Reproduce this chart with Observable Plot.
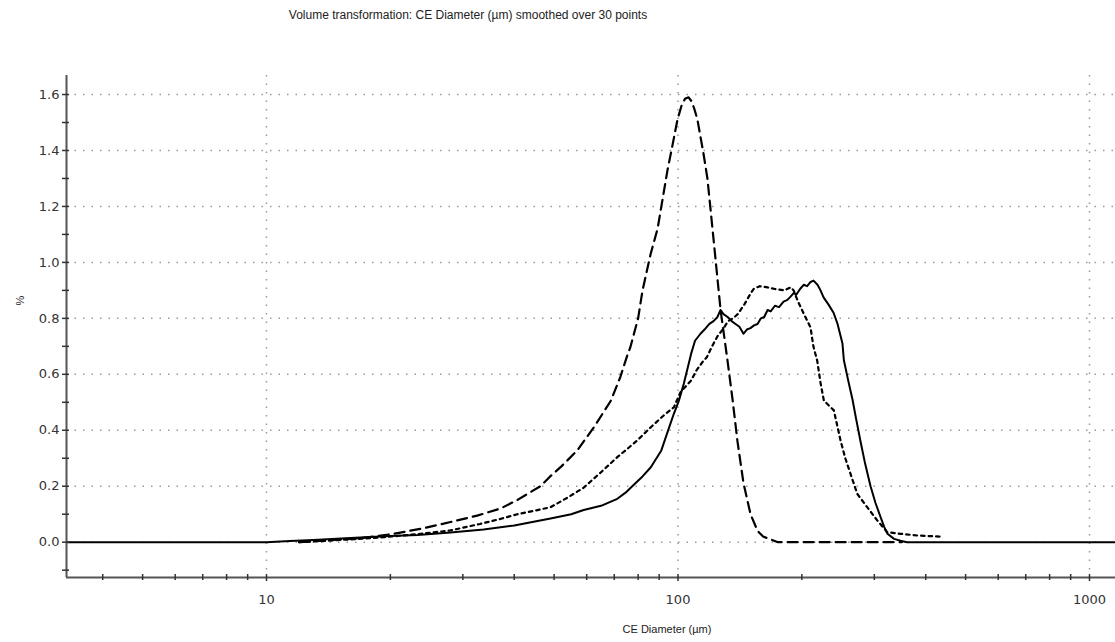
<!DOCTYPE html>
<html><head><meta charset="utf-8">
<script src="https://cdn.jsdelivr.net/npm/d3@7"></script>
<script src="https://cdn.jsdelivr.net/npm/@observablehq/plot@0.6"></script>
<style>
body{margin:0;background:#fff;font-family:"Liberation Sans",Arial,sans-serif;}
#title{height:30px;width:936px;text-align:center;font-size:12px;line-height:30px;color:#222;}
#chart svg{display:block;}
</style></head><body>
<div id="title">Volume transformation: CE Diameter (µm) smoothed over 30 points</div>
<div id="chart"></div>
<script>
// Axis settings
const xDomain = [3.266, 1156.6];
const yDomain = [-0.1262, 1.668];
const xMajor = [10, 100, 1000];
const xMinor = [4,5,6,7,8,9,20,30,40,50,60,70,80,90,200,300,400,500,600,700,800,900];
const yMajor = [0,0.2,0.4,0.6,0.8,1.0,1.2,1.4,1.6];
const yMinor = [-0.1,0.1,0.3,0.5,0.7,0.9,1.1,1.3,1.5];
const xLabel = "CE Diameter (µm)";
const yLabel = "%";

// Series: [CE diameter (µm), volume %]
const seriesSolid = [[3.27,0],[10,0],[11.4,0.004],[13,0.008],[16,0.015],[20,0.022],[23.3,0.026],[28,0.035],[33.7,0.045],[40,0.06],[49,0.085],[55,0.1],[59,0.115],[65,0.13],[71.2,0.155],[75,0.18],[78.1,0.205],[82,0.235],[85.9,0.268],[91.1,0.328],[94,0.387],[97.7,0.459],[100.5,0.506],[103.3,0.566],[107.6,0.673],[110,0.72],[113.4,0.745],[116,0.76],[119.2,0.78],[122,0.79],[124.6,0.804],[126.9,0.83],[129,0.815],[132,0.805],[135,0.79],[138,0.78],[141,0.77],[144.3,0.745],[147,0.76],[150,0.765],[153,0.775],[156.1,0.78],[159,0.8],[162,0.805],[165.1,0.83],[168,0.825],[172,0.845],[176,0.84],[180.5,0.86],[184,0.865],[187,0.875],[191,0.89],[194,0.885],[198,0.905],[202,0.92],[206,0.915],[210,0.93],[213.5,0.935],[218.3,0.92],[222,0.9],[225.8,0.875],[232,0.85],[238.8,0.82],[244.2,0.78],[251,0.71],[253,0.65],[259,0.58],[265.5,0.51],[271,0.44],[277.7,0.36],[285,0.28],[293.7,0.2],[302,0.14],[310.6,0.09],[317,0.055],[322.9,0.03],[335,0.012],[347.3,0.005],[360,0],[1157,0]];

const seriesDotted = [[12,0],[14,0.005],[16,0.01],[19.3,0.018],[23,0.028],[28,0.042],[33,0.065],[37,0.083],[40.7,0.1],[45,0.113],[49,0.125],[54,0.16],[59,0.195],[65,0.25],[71.2,0.304],[75.5,0.335],[79.5,0.363],[85.9,0.411],[92.3,0.453],[97.7,0.482],[101.4,0.536],[107.6,0.578],[111,0.615],[115.4,0.649],[117.5,0.661],[121,0.7],[124.6,0.735],[129.2,0.765],[132.3,0.79],[136,0.8],[139.9,0.816],[145,0.85],[150,0.888],[152.9,0.906],[158,0.915],[164.9,0.911],[172,0.905],[181.1,0.9],[188,0.911],[191,0.9],[195.2,0.864],[202.2,0.816],[209.9,0.768],[213.3,0.7],[217.9,0.649],[222,0.57],[226.2,0.506],[232,0.49],[239.2,0.471],[248.3,0.364],[255,0.3],[262.6,0.244],[272.6,0.173],[288.3,0.125],[304.9,0.078],[322.4,0.036],[347.3,0.03],[380.8,0.024],[434.6,0.02]];

const seriesDashed = [[12,0],[14,0.006],[17,0.015],[20.4,0.03],[24.1,0.05],[28,0.072],[32.5,0.095],[37,0.12],[40.6,0.15],[46.3,0.2],[48.9,0.235],[52,0.27],[56.9,0.328],[62.5,0.411],[68.7,0.506],[72.4,0.59],[75.4,0.67],[76.6,0.697],[80,0.8],[82,0.9],[85.8,1.03],[89.2,1.12],[94.3,1.33],[97,1.42],[99.7,1.51],[102,1.56],[104,1.585],[106.1,1.59],[108,1.575],[109.5,1.55],[111.5,1.51],[115.3,1.39],[117.9,1.3],[121.3,1.12],[123.4,1.01],[126.9,0.83],[131.9,0.65],[135.7,0.51],[139.5,0.36],[144.3,0.21],[150.1,0.1],[156.1,0.04],[161,0.02],[167.8,0.01],[175,0],[350,0]];

const gridStyle = {stroke: "#9a9a9a", strokeWidth: 1.5, strokeDasharray: "1.5,7"};
const axisStyle = {stroke: "#555", strokeWidth: 2};
const tickFont = "'DejaVu Sans', Verdana, sans-serif";

const chart = Plot.plot({
  width: 1115,
  height: 612,
  marginLeft: 66,
  marginRight: 0,
  marginTop: 45,
  marginBottom: 65,
  style: {fontFamily: "'Liberation Sans', Arial, sans-serif", fontSize: "11px", color: "#333", background: "#fff"},
  x: {type: "log", domain: xDomain},
  y: {domain: yDomain},
  marks: [
    Plot.ruleY(yMajor, {y: d => d, ...gridStyle}),
    Plot.ruleX(xMajor, {x: d => d, ...gridStyle}),
    Plot.line(seriesDashed, {x: d => d[0], y: d => d[1], stroke: "#000", strokeWidth: 2.2, strokeDasharray: "10,6", curve: "linear"}),
    Plot.line(seriesDotted, {x: d => d[0], y: d => d[1], stroke: "#000", strokeWidth: 2.2, strokeDasharray: "3.5,4", curve: "linear"}),
    Plot.line(seriesSolid, {x: d => d[0], y: d => d[1], stroke: "#000", strokeWidth: 2, curve: "linear"}),
    Plot.ruleX([xDomain[0]], {x: d => d, ...axisStyle}),
    Plot.ruleY([yDomain[0]], {y: d => d, ...axisStyle}),
    Plot.axisY({ticks: yMajor, tickSize: 4, tickPadding: 3, tickFormat: d => d.toFixed(1), label: null, stroke: "#333", strokeWidth: 1.5, fontSize: 13, fontFamily: tickFont, fill: "#333"}),
    Plot.axisY({ticks: yMajor.concat(yMinor), tickSize: -3, tickFormat: () => "", label: null, stroke: "#333", strokeWidth: 1.5}),
    Plot.axisY({ticks: yMinor, tickSize: 4, tickFormat: () => "", label: null, stroke: "#333", strokeWidth: 1.5}),
    Plot.axisX({ticks: xMajor, tickSize: 4, tickPadding: 13, tickFormat: d => String(d), label: null, stroke: "#333", strokeWidth: 1.5, fontSize: 13, fontFamily: tickFont, fill: "#333"}),
    Plot.axisX({ticks: xMajor.concat(xMinor), tickSize: -3, tickFormat: () => "", label: null, stroke: "#333", strokeWidth: 1.5}),
    Plot.axisX({ticks: xMinor, tickSize: 3, tickFormat: () => "", label: null, stroke: "#333", strokeWidth: 1.5}),
    Plot.text([xLabel], {text: d => d, frameAnchor: "bottom", dx: 76, dy: 55, fill: "#222", fontSize: 11}),
    Plot.text([yLabel], {text: d => d, frameAnchor: "left", dx: -46, dy: -21, rotate: -90, fill: "#222", fontSize: 11})
  ]
});
document.getElementById("chart").appendChild(chart);
</script>
</body></html>
